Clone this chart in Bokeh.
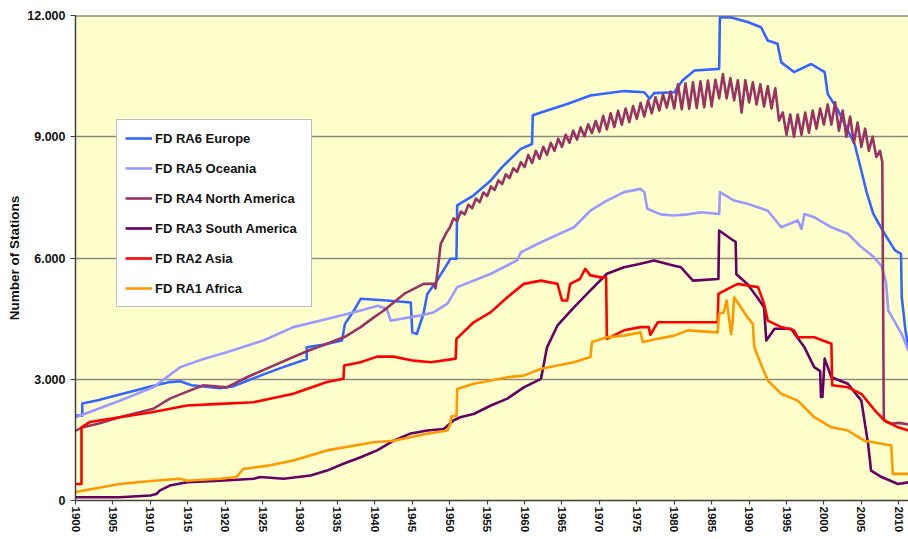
from bokeh.plotting import figure
from bokeh.models import Range1d, FixedTicker, Span
from bokeh.embed import file_html
from bokeh.resources import INLINE

# ---------------- data ----------------
x_ticks = [1900, 1905, 1910, 1915, 1920, 1925, 1930, 1935, 1940, 1945, 1950, 1955,
           1960, 1965, 1970, 1975, 1980, 1985, 1990, 1995, 2000, 2005, 2010]
y_ticks = [0, 3000, 6000, 9000, 12000]
y_labels = ["0", "3.000", "6.000", "9.000", "12.000"]

series_names = ["FD RA6 Europe", "FD RA5 Oceania", "FD RA4 North America",
                "FD RA3 South America", "FD RA2 Asia", "FD RA1 Africa"]

eu_year = [1900, 1900.9, 1900.9, 1903, 1905, 1908, 1910, 1912.6, 1914, 1915.5,
           1919.3, 1921, 1924.7, 1927, 1930.9, 1930.9, 1933, 1935.6, 1936, 1937.2,
           1938.1, 1941.6, 1944.8, 1945, 1945.6, 1946.5, 1947, 1948.3, 1950.1, 1950.9,
           1951, 1953.2, 1955.5, 1957, 1959.5, 1961, 1961.1, 1963, 1965.7, 1968.8,
           1973.3, 1976, 1976.7, 1977.3, 1980, 1981.1, 1982.7, 1986, 1986.1, 1987.6,
           1989.8, 1991.6, 1992.5, 1993.8, 1994.3, 1996, 1998.3, 2000.1, 2000.5, 2001.9,
           2003.2, 2004.1, 2005, 2005.7, 2006.6, 2008.1, 2009.5, 2010.3, 2010.4, 2010.9,
           2011.3]
eu_val = [2100, 2100, 2400, 2480, 2580, 2720, 2820, 2930, 2950, 2850,
          2780, 2820, 3090, 3250, 3500, 3790, 3850, 3960, 4370, 4700,
          4990, 4950, 4900, 4160, 4120, 4620, 5110, 5440, 5980, 5980,
          7300, 7550, 7920, 8250, 8700, 8820, 9530, 9650, 9810, 10020,
          10130, 10100, 9940, 10080, 10100, 10390, 10640, 10680, 11950, 11950,
          11840, 11710, 11380, 11300, 10840, 10600, 10800, 10600, 10060, 9650,
          9150, 8820, 8160, 7630, 7090, 6600, 6190, 6100, 5030, 4200,
          3800]

oc_year = [1900, 1901.9, 1905.9, 1910.4, 1914, 1917.1, 1920.2, 1925.1, 1929.1, 1933.6,
           1938.1, 1940.4, 1941.6, 1942.1, 1943.4, 1946.1, 1947.9, 1949.7, 1951, 1955.5,
           1959, 1959.5, 1962.2, 1966.6, 1968.8, 1971, 1973.3, 1975.5, 1976, 1976.4,
           1978.2, 1980, 1981.8, 1983.6, 1986, 1986.1, 1988, 1989.8, 1992.5, 1994.3,
           1996.5, 1997, 1997.4, 1998.7, 2001, 2003.2, 2005, 2006.5, 2007.7, 2008.3,
           2008.6, 2010.4, 2011.3]
oc_val = [2060, 2190, 2470, 2800, 3300, 3500, 3670, 3960, 4290, 4490,
          4700, 4820, 4740, 4450, 4490, 4580, 4660, 4870, 5280, 5610,
          5940, 6140, 6390, 6760, 7170, 7420, 7630, 7710, 7630, 7220,
          7080, 7050, 7080, 7130, 7090, 7630, 7420, 7340, 7170, 6760,
          6930, 6720, 7090, 7010, 6760, 6600, 6270, 6050, 5800, 5400,
          4700, 4120, 3700]

na_early_year = [1900, 1901, 1903, 1905.9, 1910.4, 1912.6, 1915, 1917.1, 1920.2, 1922.9,
                 1926, 1929.1, 1931, 1933.6, 1936, 1938.1, 1940, 1941.2, 1943.9, 1946.5,
                 1947.9, 1948.1, 1948.5, 1948.8, 1949.6]
na_early_val = [1730, 1810, 1900, 2060, 2270, 2520, 2700, 2850, 2800, 3050,
                3300, 3550, 3700, 3880, 4050, 4290, 4550, 4700, 5110, 5360,
                5360, 5250, 5860, 6350, 6640]
# half-yearly readings (seasonal saw-tooth) from 1950.0 to 2007.5
na_half_start = 1950
na_half_val = [6750, 6980, 6920, 7150, 7080, 7320, 7230, 7470, 7380, 7620,
               7530, 7770, 7680, 7920, 7830, 8070, 7980, 8220, 8130, 8370,
               8250, 8550, 8350, 8650, 8450, 8750, 8550, 8850, 8650, 8950,
               8750, 9050, 8850, 9150, 8930, 9230, 9010, 9310, 9090, 9390,
               9120, 9520, 9180, 9580, 9240, 9640, 9300, 9700, 9360, 9760,
               9440, 9840, 9500, 9900, 9580, 9980, 9650, 10050, 9720, 10120,
               9700, 10300, 9680, 10320, 9690, 10350, 9710, 10370, 9730, 10390,
               9750, 10410, 9950, 10550, 9950, 10450, 9900, 10400, 9600, 10400,
               9850, 10350, 9800, 10300, 9750, 10250, 9700, 10200, 9400, 9600,
               9050, 9550, 9000, 9550, 9050, 9600, 9100, 9650, 9200, 9700,
               9300, 9800, 9300, 9850, 9150, 9650, 9000, 9500, 8850, 9350,
               8750, 9200, 8650, 9000, 8500, 8650]
na_late_year = [2007.8, 2008.0, 2008.3, 2009, 2010, 2011.3]
na_late_val = [8370, 2000, 1950, 1900, 1920, 1880]

sa_year = [1900, 1905.9, 1910, 1910.8, 1911.3, 1912.6, 1914.9, 1919.3, 1923.8, 1924.7,
           1927.8, 1931.4, 1933.6, 1935.8, 1938.1, 1940.3, 1942.5, 1944.8, 1947, 1949.2,
           1950.5, 1951.4, 1953.2, 1955.5, 1957.7, 1959.9, 1962.2, 1963, 1964.4, 1966.6,
           1968.8, 1971, 1973.3, 1975.5, 1977.3, 1980, 1980.9, 1982.5, 1985.9, 1986,
           1987.6, 1988.2, 1988.3, 1989.8, 1991.2, 1992, 1992.3, 1993.4, 1995.6, 1997.4,
           1998.7, 1999.5, 1999.6, 1999.8, 2000.1, 2001, 2003.2, 2005, 2005.9, 2006.3,
           2007.7, 2009.9, 2011.3]
sa_val = [80, 82, 124, 160, 250, 370, 450, 490, 540, 580,
          540, 620, 740, 910, 1070, 1240, 1480, 1660, 1730, 1770,
          1980, 2060, 2140, 2350, 2520, 2800, 3010, 3790, 4330, 4780,
          5200, 5610, 5770, 5860, 5940, 5810, 5770, 5440, 5480, 6680,
          6470, 6400, 5600, 5350, 5000, 4780, 3960, 4250, 4250, 3790,
          3300, 3200, 2560, 2560, 3510, 3050, 2890, 2470, 1400, 740,
          580, 410, 450]

as_year = [1900, 1900.8, 1900.8, 1901.9, 1905.9, 1910.4, 1914.9, 1919.3, 1923.8, 1926,
           1929.1, 1933.6, 1935.8, 1935.9, 1938.1, 1940.3, 1942.5, 1945.2, 1947.5, 1950.8,
           1950.9, 1953.2, 1955.5, 1957.7, 1959.9, 1962.2, 1964.4, 1965, 1965.7, 1966.1,
           1967.4, 1968.1, 1968.8, 1970.2, 1970.9, 1971, 1973.3, 1975.5, 1976.6, 1976.8,
           1977.8, 1980, 1985.8, 1985.9, 1987.6, 1988.5, 1989.8, 1991.2, 1992, 1992.5,
           1994.3, 1996, 1996.5, 1998.7, 2001, 2001.1, 2003.2, 2005, 2006.8, 2008.1,
           2009.9, 2011.3]
as_val = [410, 410, 1810, 1940, 2060, 2190, 2350, 2390, 2430, 2520,
          2640, 2930, 3010, 3340, 3420, 3560, 3560, 3460, 3420, 3510,
          4000, 4410, 4660, 5030, 5360, 5440, 5360, 4950, 4950, 5360,
          5480, 5730, 5570, 5520, 5520, 4000, 4210, 4290, 4290, 4100,
          4410, 4410, 4410, 5110, 5280, 5360, 5320, 5280, 4870, 4450,
          4290, 4210, 4040, 4040, 3880, 2850, 2800, 2640, 2230, 1980,
          1810, 1730]

af_year = [1900, 1905.9, 1910.4, 1914, 1914.9, 1919.3, 1921.5, 1922.4, 1926, 1929.1,
           1933.6, 1939.8, 1942.5, 1947, 1949.7, 1950.1, 1950.2, 1950.9, 1951, 1953.2,
           1955.5, 1957.7, 1959.9, 1962.2, 1964.4, 1966.6, 1968.8, 1969, 1971, 1973.3,
           1975.5, 1975.8, 1977.8, 1980, 1981.8, 1985.8, 1986, 1986.6, 1987, 1987.4,
           1987.6, 1987.8, 1988, 1989.8, 1990.5, 1990.7, 1991.4, 1992.5, 1994.3, 1996.5,
           1998.7, 2001, 2003.2, 2005.4, 2009, 2009.2, 2011.3]
af_val = [210, 410, 490, 540, 490, 540, 580, 780, 870, 990,
          1240, 1440, 1480, 1650, 1730, 1900, 2080, 2100, 2760, 2890,
          2970, 3050, 3090, 3260, 3340, 3420, 3550, 3920, 4040, 4080,
          4160, 3920, 4000, 4080, 4210, 4160, 4620, 4650, 4950, 4400,
          4120, 4400, 5030, 4530, 4370, 3790, 3460, 2970, 2640, 2470,
          2060, 1810, 1730, 1480, 1360, 660, 660]

colors = ["#3366FF", "#9999FF", "#993366", "#660066", "#FF0000", "#FF9900"]

# ---------------- figure ----------------
FONT = "Liberation Sans"

p = figure(width=908, height=539, output_backend="svg", toolbar_location=None,
           x_range=Range1d(1900, 2011.3), y_range=Range1d(0, 12000),
           min_border_left=75, min_border_right=0, min_border_top=15,
           min_border_bottom=39)
p.background_fill_color = "#FFFFCC"
p.border_fill_color = "white"
p.outline_line_color = None

p.xgrid.visible = False
p.ygrid.ticker = FixedTicker(ticks=y_ticks[1:-1])
p.ygrid.grid_line_color = "#8A8A80"
p.ygrid.grid_line_width = 1.5
p.add_layout(Span(location=y_ticks[-1], dimension="width",
                  line_color="#555555", line_width=2))

p.xaxis.ticker = FixedTicker(ticks=x_ticks)
p.xaxis.major_label_orientation = "vertical"
p.yaxis.ticker = FixedTicker(ticks=y_ticks)
p.yaxis.major_label_overrides = {t: l for t, l in zip(y_ticks, y_labels)}

for ax in (p.xaxis, p.yaxis):
    ax.axis_line_color = "#404040"
    ax.axis_line_width = 1.5
    ax.major_tick_line_color = "#404040"
    ax.major_tick_line_width = 1.2
    ax.major_tick_in = 0
    ax.minor_tick_line_color = None
    ax.major_label_text_font = FONT
    ax.major_label_text_font_style = "bold"
    ax.major_label_text_color = "#111111"

p.xaxis.major_tick_out = 4
p.xaxis.major_label_standoff = 2
p.xaxis.major_label_text_font_size = "11.5px"
p.yaxis.major_tick_out = 5
p.yaxis.major_label_standoff = 5
p.yaxis.major_label_text_font_size = "12.5px"

p.yaxis.axis_label = "Number of Stations"
p.yaxis.axis_label_text_font = FONT
p.yaxis.axis_label_text_font_style = "bold"
p.yaxis.axis_label_text_font_size = "13.5px"
p.yaxis.axis_label_text_color = "#111111"
p.yaxis.axis_label_standoff = 2

na_year = na_early_year + [na_half_start + i / 2 for i in range(len(na_half_val))] + na_late_year
na_val = na_early_val + na_half_val + na_late_val

data = [(eu_year, eu_val), (oc_year, oc_val), (na_year, na_val),
        (sa_year, sa_val), (as_year, as_val), (af_year, af_val)]

for (xs, ys), name, c in zip(data, series_names, colors):
    p.line(xs, ys, line_color=c, line_width=2.6, line_join="round",
           legend_label=name)

leg = p.legend[0]
leg.location = (41, 193)
leg.border_line_color = "#808080"
leg.border_line_width = 1.2
leg.background_fill_color = "white"
leg.background_fill_alpha = 1.0
leg.label_text_font = FONT
leg.label_text_font_style = "bold"
leg.label_text_font_size = "13px"
leg.label_text_color = "#111111"
leg.glyph_width = 27
leg.glyph_height = 20
leg.label_height = 20
leg.label_width = 148
leg.spacing = 10
leg.padding = 8
leg.margin = 0
leg.label_standoff = 3

open("out.html", "w").write(file_html(p, INLINE))
